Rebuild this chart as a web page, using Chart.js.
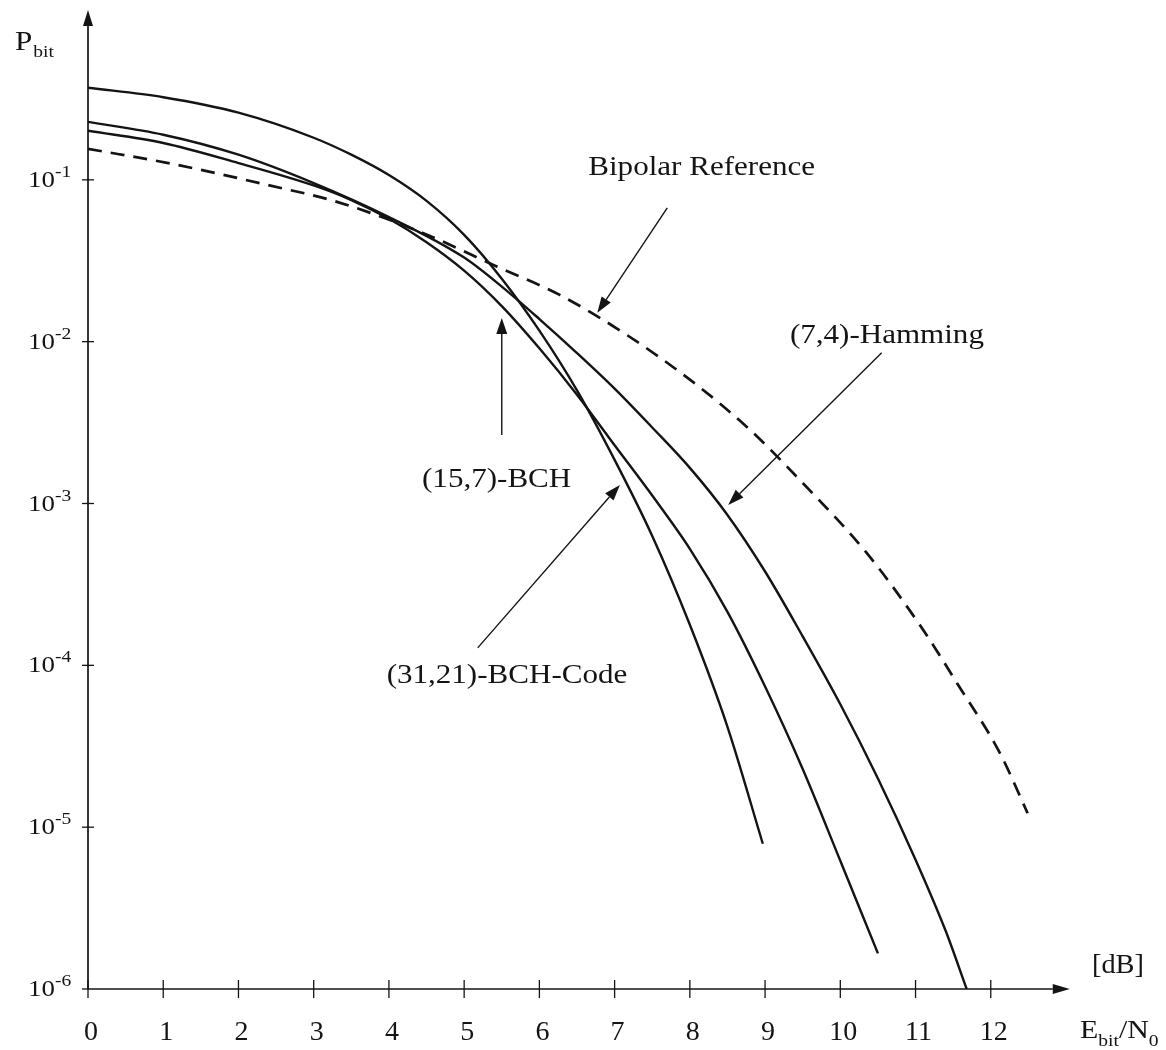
<!DOCTYPE html>
<html>
<head>
<meta charset="utf-8">
<script src="https://cdn.jsdelivr.net/npm/chart.js@4.4.1/dist/chart.umd.min.js"></script>
<style>
  html, body { margin: 0; padding: 0; background: #fff; }
  #wrap { width: 1166px; height: 1050px; }
</style>
</head>
<body>
<div id="wrap"><canvas id="chart" width="1166" height="1050"></canvas></div>
<script>
// Eb/N0 [dB] and Pbit
const bch31X = [0, 1, 2, 3, 3.5, 4, 4.5, 5, 5.5, 6, 6.5, 7, 7.5, 8, 8.5, 8.97];
const bch31P = [0.371, 0.324, 0.26, 0.182, 0.143, 0.107, 0.0741, 0.0457, 0.0245, 0.0117, 5.0e-3, 1.86e-3, 6.3e-4, 1.78e-4, 4.17e-5, 7.9e-6];

const bch15X = [0, 1, 2, 3, 3.5, 4, 4.5, 5, 5.5, 6, 6.5, 7, 7.5, 8, 8.5, 9, 9.5, 10, 10.5];
const bch15P = [0.201, 0.169, 0.127, 0.0923, 0.075, 0.0575, 0.0412, 0.0275, 0.0166, 9.1e-3, 4.7e-3, 2.29e-3, 1.12e-3, 5.25e-4, 2.14e-4, 7.4e-5, 2.29e-5, 6.2e-6, 1.66e-6];

const ham74X = [0, 1, 2, 3, 4, 5, 5.5, 6, 6.5, 7, 7.5, 8, 8.5, 9, 9.5, 10, 10.5, 11, 11.4, 11.68];
const ham74P = [0.228, 0.19, 0.143, 0.0955, 0.0589, 0.0331, 0.0219, 0.0138, 8.51e-3, 5.13e-3, 2.95e-3, 1.66e-3, 8.5e-4, 3.8e-4, 1.51e-4, 5.75e-5, 2.0e-5, 6.3e-6, 2.29e-6, 1.0e-6];

const bipolarX = [0, 1.18, 2.38, 3.31, 4.45, 5.44, 6.27, 7.16, 8.09, 8.80, 9.46, 10.35, 11.10, 11.55, 12.12, 12.49];
const bipolarP = [0.1556, 0.1239, 0.0931, 0.0731, 0.047, 0.029, 0.01945, 0.01102, 5.41e-3, 2.85e-3, 1.40e-3, 4.95e-4, 1.66e-4, 7.78e-5, 2.88e-5, 1.22e-5];

const xTicks = [0, 1, 2, 3, 4, 5, 6, 7, 8, 9, 10, 11, 12];
const yTicks = [1e-1, 1e-2, 1e-3, 1e-4, 1e-5, 1e-6];
const yTickExp = ['-1', '-2', '-3', '-4', '-5', '-6'];

const curveNames = ['Bipolar Reference', '(7,4)-Hamming', '(15,7)-BCH', '(31,21)-BCH-Code'];

// label anchors and arrows, in (dB, log10 P)
const labelAt = [[6.65, -0.97], [9.33, -2.007], [4.44, -2.897], [3.97, -4.109]];
const arrowFrom = [[7.70, -1.173], [10.55, -2.069], [5.50, -2.576], [5.18, -3.892]];
const arrowTo = [[6.77, -1.822], [8.51, -3.009], [5.50, -1.853], [7.07, -2.885]];

const pts = (xs, ps) => xs.map((x, i) => ({ x, y: ps[i] }));

const SERIF = '"Liberation Serif", "DejaVu Serif", serif';
const STRETCH = 1.15;

// draw text stretched horizontally, return advance width
function txt(ctx, s, x, y, size, sx) {
  sx = sx || 1;
  ctx.font = size + 'px ' + SERIF;
  ctx.textAlign = 'left';
  ctx.textBaseline = 'alphabetic';
  ctx.save();
  ctx.translate(x, y);
  ctx.scale(sx, 1);
  ctx.fillText(s, 0, 0);
  ctx.restore();
  return ctx.measureText(s).width * sx;
}

function arrow(ctx, x1, y1, x2, y2, len, half) {
  const a = Math.atan2(y2 - y1, x2 - x1);
  const bx = x2 - Math.cos(a) * len, by = y2 - Math.sin(a) * len;
  ctx.beginPath();
  ctx.moveTo(x1, y1);
  ctx.lineTo(bx, by);
  ctx.stroke();
  ctx.beginPath();
  ctx.moveTo(x2, y2);
  ctx.lineTo(bx + Math.sin(a) * half, by - Math.cos(a) * half);
  ctx.lineTo(bx - Math.sin(a) * half, by + Math.cos(a) * half);
  ctx.closePath();
  ctx.fill();
}

const drawing = {
  id: 'drawing',
  afterDatasetsDraw(chart) {
    const { ctx, scales: { x, y } } = chart;
    const px = v => x.getPixelForValue(v);
    const py = v => y.getPixelForValue(Math.pow(10, v));
    const x0 = px(0), yb = y.getPixelForValue(1e-6);

    ctx.save();
    ctx.strokeStyle = '#141414';
    ctx.fillStyle = '#141414';

    // axes with arrow heads
    ctx.lineWidth = 1.7;
    arrow(ctx, x0, yb, px(13.05), yb, 17, 5);
    arrow(ctx, x0, yb, x0, py(0.05), 16, 5);

    ctx.lineWidth = 1.3;
    xTicks.forEach(v => {
      ctx.beginPath();
      ctx.moveTo(px(v), yb - 9);
      ctx.lineTo(px(v), yb + 9);
      ctx.stroke();
    });
    yTicks.forEach(v => {
      const t = y.getPixelForValue(v);
      ctx.beginPath();
      ctx.moveTo(x0 - 6, t);
      ctx.lineTo(v === 1e-6 ? x0 : x0 + 6, t);
      ctx.stroke();
    });

    // tick labels
    xTicks.forEach(v => {
      ctx.font = '28px ' + SERIF;
      const w = ctx.measureText(String(v)).width;
      txt(ctx, String(v), px(v) + 3 - w / 2, yb + 51, 28);
    });
    yTicks.forEach((v, i) => {
      const t = y.getPixelForValue(v);
      ctx.font = '24px ' + SERIF;
      const w = ctx.measureText('10').width * 1.12;
      txt(ctx, '10', x0 - 33 - w, t + 7, 24, 1.12);
      txt(ctx, yTickExp[i], x0 - 33, t - 3, 17, 1.15);
    });

    // axis titles
    let cx = 15;
    cx += txt(ctx, 'P', cx, 50, 27, STRETCH);
    txt(ctx, 'bit', cx + 1, 57, 17, STRETCH);

    cx = 1080;
    cx += txt(ctx, 'E', cx, 1038, 26, STRETCH);
    cx += txt(ctx, 'bit', cx, 1046, 17, STRETCH);
    cx += txt(ctx, '/N', cx, 1038, 26, STRETCH);
    txt(ctx, '0', cx, 1046, 17, STRETCH);

    txt(ctx, '[dB]', 1092, 973, 27, 1.05);

    // curve labels and pointer arrows
    ctx.lineWidth = 1.4;
    curveNames.forEach((name, i) => {
      txt(ctx, name, px(labelAt[i][0]), py(labelAt[i][1]), 27, STRETCH);
      arrow(ctx, px(arrowFrom[i][0]), py(arrowFrom[i][1]), px(arrowTo[i][0]), py(arrowTo[i][1]), 16, 5.5);
    });

    ctx.restore();
  }
};

const lineStyle = {
  borderColor: '#141414',
  borderWidth: 2.4,
  pointRadius: 0,
  fill: false,
  cubicInterpolationMode: 'monotone'
};

new Chart(document.getElementById('chart'), {
  type: 'line',
  data: {
    datasets: [
      { ...lineStyle, label: curveNames[0], data: pts(bipolarX, bipolarP), borderDash: [14, 9], borderWidth: 2.7 },
      { ...lineStyle, label: curveNames[1], data: pts(ham74X, ham74P) },
      { ...lineStyle, label: curveNames[2], data: pts(bch15X, bch15P) },
      { ...lineStyle, label: curveNames[3], data: pts(bch31X, bch31P) }
    ]
  },
  options: {
    responsive: false,
    devicePixelRatio: 1,
    animation: false,
    layout: { padding: { left: 88, top: 18, right: 100, bottom: 61 } },
    scales: {
      x: { type: 'linear', min: 0, max: 13, display: false },
      y: { type: 'logarithmic', min: 1e-6, max: 1, display: false }
    },
    plugins: { legend: { display: false }, tooltip: { enabled: false } }
  },
  plugins: [drawing]
});
</script>
</body>
</html>
